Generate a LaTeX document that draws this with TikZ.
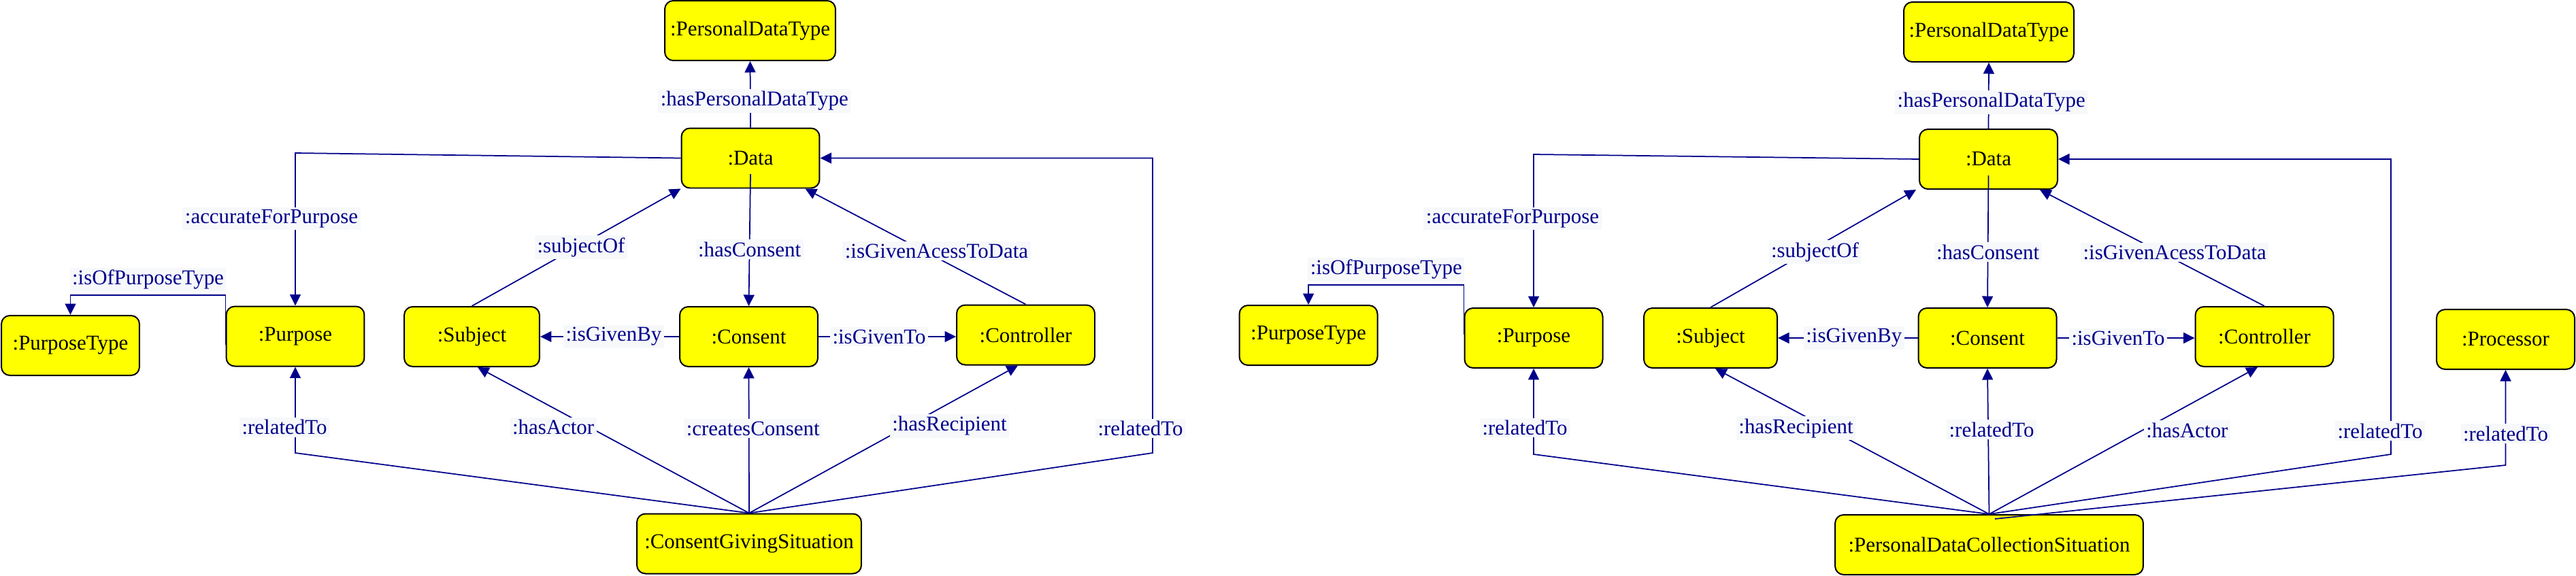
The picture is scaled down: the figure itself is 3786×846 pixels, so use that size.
\documentclass[tikz,border=0pt]{standalone}
\usepackage{fontspec}
\setmainfont{Liberation Serif}
\usetikzlibrary{arrows.meta}
\definecolor{relblue}{RGB}{0,0,139}
\definecolor{relbg}{HTML}{F6F8FA}
\definecolor{classyellow}{RGB}{255,255,0}

\begin{document}
\begin{tikzpicture}[x=0.02cm,y=-0.02cm,
    font=\fontsize{17.6}{21}\selectfont,
    cls/.style={shape=rectangle,rounded corners=0.25cm,draw=black,line width=0.04cm,
        fill=classyellow,minimum width=4.06cm,minimum height=1.76cm,inner xsep=0.1cm},
    rel/.style={draw=relblue,line width=0.035cm,-{Triangle[length=0.33cm,width=0.32cm]}},
    lbl/.style={fill=relbg,text=relblue,inner sep=0.07cm}]
    \useasboundingbox (0,0) rectangle (3786,846);

    % consent giving situation
    \node[cls,minimum width=5.02cm] (PDT1) at (1102.5,45) {:PersonalDataType};
    \node[cls] (Data1) at (1103,232.5) {:Data};
    \node[cls] (PurposeType1) at (103.5,508) {:PurposeType};
    \node[cls] (Purpose1) at (434,494.5) {:Purpose};
    \node[cls,minimum width=3.98cm] (Subject1) at (693.5,495) {:Subject};
    \node[cls] (Consent1) at (1100.5,495) {:Consent};
    \node[cls] (Controller1) at (1507.5,492.5) {:Controller};
    \node[cls,minimum width=6.6cm] (CGS) at (1101,799.5) {:ConsentGivingSituation};

    \path (Data1.north) edge[rel] node[lbl,pos=0.4,xshift=0.12cm] {:hasPersonalDataType} (PDT1.south);
    \draw[rel] (Data1.west) -- (Purpose1.north |- 0,225) -- node[lbl,pos=0.43,xshift=-0.7cm] {:accurateForPurpose} (Purpose1.north);
    \draw[rel] ([yshift=-0.25cm]Purpose1.west) -- (Purpose1.west |- 0,434) -- node[lbl,above=0.08cm,midway] {:isOfPurposeType} (PurposeType1.north |- 0,434) -- (PurposeType1.north);
    \path ([yshift=-0.47cm]Data1.center) edge[rel] node[lbl,pos=0.57] {:hasConsent} (Consent1.north);
    \path (Subject1.north) edge[rel] node[lbl,midway,xshift=0.14cm] {:subjectOf} (Data1.south west);
    \path (Controller1.north) edge[rel] node[lbl,pos=0.46,xshift=0.36cm] {:isGivenAcessToData} ([xshift=-0.44cm]Data1.south east);
    \path (Consent1.west) edge[rel] node[lbl,midway,xshift=0.12cm] {:isGivenBy} (Subject1.east);
    \path (Consent1.east) edge[rel] node[lbl,midway,xshift=-0.24cm] {:isGivenTo} (Controller1.west |- Consent1.east);

    \draw[rel] (CGS.north) -- (Purpose1.south |- 0,666) -- node[lbl,pos=0.3,xshift=-0.32cm] {:relatedTo} (Purpose1.south);
    \path (CGS.north) edge[rel] node[lbl,pos=0.59,xshift=-1.05cm] {:hasActor} ([xshift=0.17cm]Subject1.south);
    \path (CGS.north) edge[rel] node[lbl,pos=0.58,xshift=0.12cm] {:createsConsent} (Consent1.south);
    \path (CGS.north) edge[rel] node[lbl,pos=0.59,xshift=1.23cm] {:hasRecipient} ([xshift=-0.23cm]Controller1.south);
    \draw[rel] (CGS.north) -- (1694,666) -- node[lbl,pos=0.083,xshift=-0.36cm] {:relatedTo} (Data1.east -| 1694,0) -- (Data1.east);

    % personal data collection situation
    \node[cls,minimum width=5.0cm] (PDT2) at (2923,47) {:PersonalDataType};
    \node[cls] (Data2) at (2922.5,234) {:Data};
    \node[cls] (PurposeType2) at (1923,493) {:PurposeType};
    \node[cls] (Purpose2) at (2254,497) {:Purpose};
    \node[cls,minimum width=3.92cm] (Subject2) at (2514,497) {:Subject};
    \node[cls] (Consent2) at (2921,497) {:Consent};
    \node[cls] (Controller2) at (3328,495) {:Controller};
    \node[cls] (Processor) at (3682.5,499) {:Processor};
    \node[cls,minimum width=9.06cm] (PDCS) at (2923.5,801) {:PersonalDataCollectionSituation};

    \path (Data2.north) edge[rel] node[lbl,pos=0.4,xshift=0.08cm] {:hasPersonalDataType} (PDT2.south);
    \draw[rel] (Data2.west) -- (Purpose2.north |- 0,227) -- node[lbl,pos=0.42,xshift=-0.62cm] {:accurateForPurpose} (Purpose2.north);
    \draw[rel] ([yshift=0.1cm]Purpose2.west) -- (Purpose2.west |- 0,419) -- node[lbl,above=0.08cm,midway] {:isOfPurposeType} (PurposeType2.north |- 0,419) -- (PurposeType2.north);
    \path ([yshift=-0.48cm]Data2.center) edge[rel] node[lbl,pos=0.58] {:hasConsent} (Consent2.north);
    \path (Subject2.north) edge[rel] node[lbl,pos=0.47,xshift=0.23cm] {:subjectOf} ([xshift=-0.08cm]Data2.south west);
    \path (Controller2.north) edge[rel] node[lbl,pos=0.46,xshift=0.4cm] {:isGivenAcessToData} ([xshift=-0.54cm]Data2.south east);
    \path (Consent2.west) edge[rel] node[lbl,midway,xshift=0.18cm] {:isGivenBy} (Subject2.east);
    \path (Consent2.east) edge[rel] node[lbl,midway,xshift=-0.23cm] {:isGivenTo} (Controller2.west |- Consent2.east);

    \draw[rel] (PDCS.north) -- (Purpose2.south |- 0,668) -- node[lbl,pos=0.31,xshift=-0.26cm] {:relatedTo} (Purpose2.south);
    \path (PDCS.north) edge[rel] node[lbl,pos=0.59,xshift=-0.93cm] {:hasRecipient} ([xshift=0.14cm]Subject2.south);
    \path (PDCS.north) edge[rel] node[lbl,pos=0.58,xshift=0.1cm] {:relatedTo} (Consent2.south);
    \path (PDCS.north) edge[rel] node[lbl,pos=0.57,xshift=1.32cm] {:hasActor} ([xshift=-0.2cm]Controller2.south);
    \draw[rel] (PDCS.north) -- (3514,668) -- node[lbl,pos=0.079,xshift=-0.32cm] {:relatedTo} (Data2.east -| 3514,0) -- (Data2.east);
    \draw[rel] ([xshift=0.17cm,yshift=-0.14cm]PDCS.north) -- (Processor.south |- 0,684) -- node[lbl,pos=0.33] {:relatedTo} (Processor.south);
\end{tikzpicture}
\end{document}
